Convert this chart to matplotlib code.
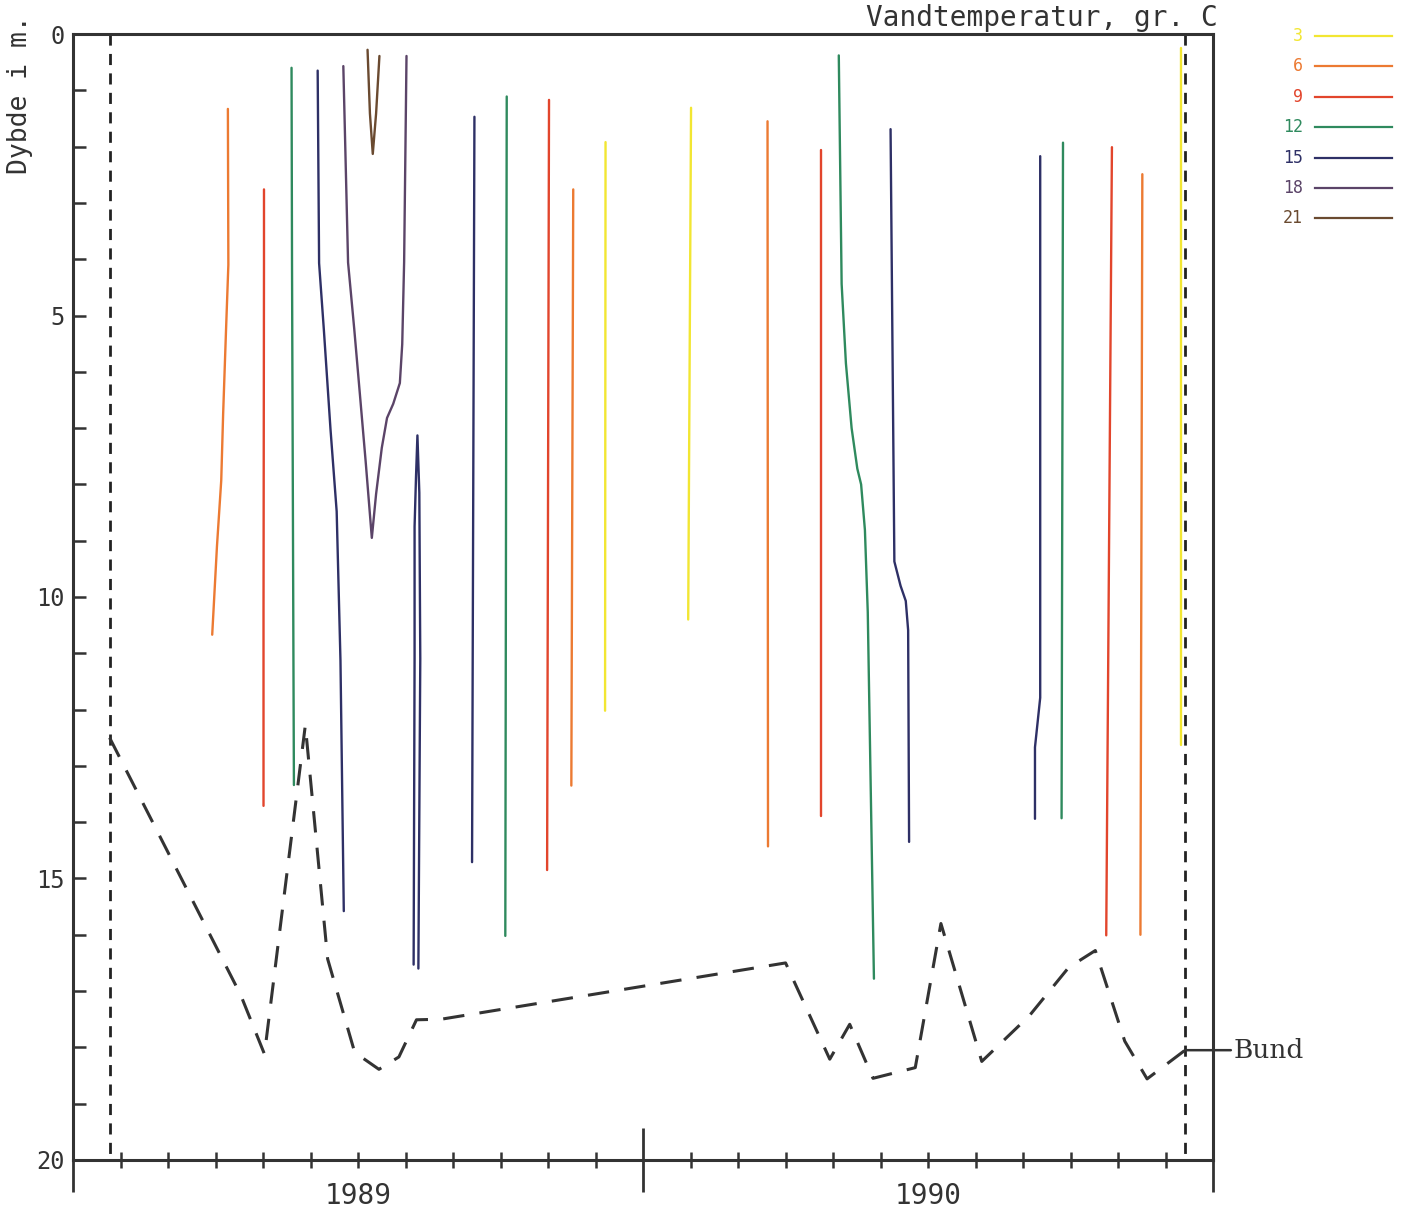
import numpy as np
import matplotlib.pyplot as plt
from matplotlib.lines import Line2D

# x: months after 1 Jan 1989, y: depth (m)
temps = [3, 6, 9, 12, 15, 18, 21]
temp_colors = ['#f2e632', '#ec7a32', '#e2452c', '#2f8a5e', '#2e3066', '#5b4468', '#6a4a30']

iso_temp = [6, 9, 12, 15, 18, 21, 15,
            15, 12, 9, 6, 3, 3, 6, 9, 12, 15,
            15, 12, 9, 6, 3]
iso_month = [
    [3.26, 3.27, 3.22, 3.16, 3.12, 3.03, 2.93],
    [4.02, 4.02, 4.01, 4.01],
    [4.60, 4.61, 4.64, 4.65],
    [5.15, 5.18, 5.28, 5.42, 5.55, 5.63, 5.70],
    [5.69, 5.79, 5.92, 6.04, 6.16, 6.29, 6.38, 6.50, 6.61, 6.74, 6.88, 6.93, 6.97, 7.02],
    [6.20, 6.25, 6.31, 6.38, 6.45],
    [7.17, 7.19, 7.19, 7.22, 7.25, 7.29, 7.31, 7.27],
    [8.45, 8.40],
    [9.13, 9.10],
    [10.02, 9.98],
    [10.53, 10.49],
    [11.21, 11.20],
    [13.01, 12.95],
    [14.62, 14.63],
    [15.74, 15.74],
    [16.12, 16.18, 16.27, 16.39, 16.51, 16.59, 16.67, 16.73, 16.86],
    [17.21, 17.29, 17.42, 17.53, 17.58, 17.60],
    [20.36, 20.36, 20.25, 20.25],
    [20.84, 20.81],
    [21.87, 21.75],
    [22.51, 22.47],
    [23.33, 23.33],
]
iso_depth = [
    [1.33, 4.10, 5.28, 6.75, 7.93, 9.10, 10.67],
    [2.76, 4.09, 10.27, 13.71],
    [0.60, 4.08, 11.14, 13.34],
    [0.65, 4.07, 5.25, 7.02, 8.48, 11.13, 15.58],
    [0.57, 4.06, 5.24, 6.41, 7.59, 8.95, 8.17, 7.35, 6.82, 6.57, 6.20, 5.51, 4.05, 0.39],
    [0.28, 1.41, 2.13, 1.41, 0.39],
    [16.53, 11.10, 8.75, 7.87, 7.13, 8.15, 11.10, 16.60],
    [1.47, 14.71],
    [1.11, 16.02],
    [1.17, 14.85],
    [2.76, 13.35],
    [1.92, 12.02],
    [1.31, 10.40],
    [1.55, 14.43],
    [2.06, 13.89],
    [0.38, 4.44, 5.85, 7.00, 7.72, 8.00, 8.81, 10.27, 16.78],
    [1.69, 9.37, 9.80, 10.07, 10.59, 14.35],
    [2.17, 11.79, 12.67, 13.94],
    [1.93, 13.93],
    [2.01, 16.01],
    [2.49, 16.00],
    [0.24, 12.63],
]

sample_month = [0.77, 23.41]

bund_month = [0.77, 3.53, 4.03, 4.89, 5.36, 5.93, 6.44, 6.86, 7.23, 7.75, 15.0, 15.93,
              16.35, 16.84, 17.73, 18.27, 19.13, 20.13, 20.96, 21.52, 22.14, 22.61, 23.41]
bund_depth = [12.5, 17.07, 18.12, 12.28, 16.43, 18.09, 18.39, 18.17, 17.51, 17.5, 16.5, 18.21,
              17.59, 18.55, 18.36, 15.8, 18.25, 17.44, 16.58, 16.28, 17.89, 18.56, 18.05]

year_labels = ['1989', '1990']

axcol = '#333333'
mono = 'DejaVu Sans Mono'

fig = plt.figure(figsize=(14.07, 12.15), dpi=100)
ax = fig.add_axes([0.0519, 0.0453, 0.8103, 0.9267])

for t, xs, ys in zip(iso_temp, iso_month, iso_depth):
    ax.plot(xs, ys, color=temp_colors[temps.index(t)], lw=1.7, solid_capstyle='round')

for m in sample_month:
    ax.plot([m, m], [0, 20], color='#222222', lw=2, dashes=(4, 3))

ax.plot(bund_month, bund_depth, color='#333333', lw=2.2, dashes=(7, 5))

ax.annotate('Bund', xy=(bund_month[-1], bund_depth[-1]), xycoords='data',
            xytext=(1.018, bund_depth[-1]), textcoords=('axes fraction', 'data'),
            va='center', ha='left', fontsize=19, family='DejaVu Serif', color='#333333',
            arrowprops=dict(arrowstyle='-', color='#333333', lw=1.8, shrinkA=0, shrinkB=0),
            annotation_clip=False)

ax.set_xlim(0, 24)
ax.set_ylim(20, 0)

ax.set_xticks([0, 12, 24])
ax.set_xticks(np.arange(1, 24), minor=True)
ax.set_xticklabels([])
ax.tick_params(axis='x', which='major', direction='inout', length=46, width=2, color=axcol)
ax.tick_params(axis='x', which='minor', direction='inout', length=12, width=1.8, color=axcol)
for i, lab in enumerate(year_labels):
    ax.text(6 + 12 * i, -0.02, lab, transform=ax.get_xaxis_transform(),
            ha='center', va='top', fontsize=20, family=mono, color=axcol)

ax.set_yticks([0, 5, 10, 15, 20])
ax.set_yticks(np.arange(0, 21), minor=True)
ax.tick_params(axis='y', which='both', direction='in', length=9, width=1.8, color=axcol,
               labelsize=17, labelcolor=axcol, pad=6)
for lab in ax.get_yticklabels():
    lab.set_family(mono)

for s in ax.spines.values():
    s.set_color(axcol)
    s.set_linewidth(2.2)

fig.text(0.0142, 0.922, 'Dybde i m.', rotation=90, ha='center', va='center',
         fontsize=19, family=mono, color=axcol)
fig.text(0.8657, 1 - 26 / 1215, 'Vandtemperatur, gr. C', ha='right', va='baseline',
         fontsize=20, family=mono, color=axcol)

# legend, labels left of the line samples
for i, (t, c) in enumerate(zip(temps, temp_colors)):
    yy = 1 - (36 + 30.4 * i) / 1215
    fig.text(1303 / 1407, yy, str(t), ha='right', va='center', fontsize=12,
             family=mono, color=c)
    fig.add_artist(Line2D([1315 / 1407, 1392 / 1407], [yy, yy], color=c, lw=1.6))

fig.savefig('out.png', dpi=100)
